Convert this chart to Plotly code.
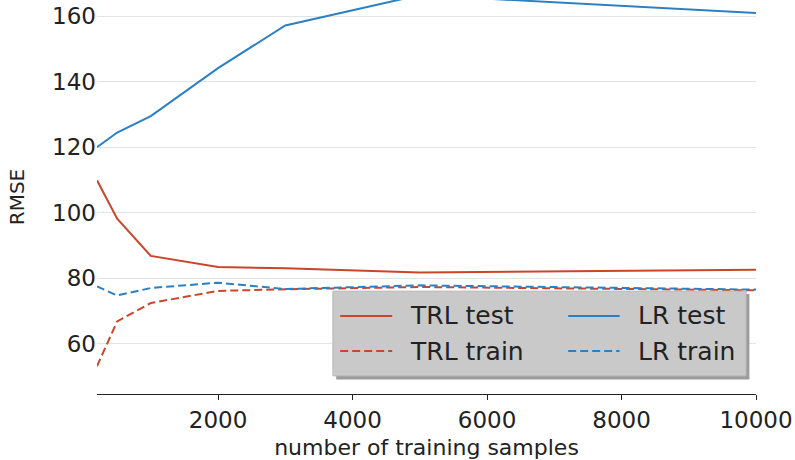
import plotly.graph_objects as go

# training-set sizes
n_samples = [200, 500, 1000, 2000, 3000, 5000, 10000]

# RMSE per model / split
trl_test = [109.9, 98.2, 86.8, 83.4, 83.0, 81.7, 82.6]
trl_train = [53.1, 66.8, 72.4, 76.1, 76.6, 77.3, 76.3]
lr_test = [120.0, 124.5, 129.5, 144.2, 157.2, 166.5, 161.0]
lr_train = [77.5, 74.7, 77.0, 78.6, 76.7, 77.8, 76.5]

x_ticks = [2000, 4000, 6000, 8000, 10000]
x_ticktext = ['2000', '4000', '6000', '8000', '10000']
y_ticks = [60, 80, 100, 120, 140, 160]

RED = '#c9462b'
BLUE = '#2b80c3'
TXT = '#222222'
FONT = 'DejaVu Sans'
DASH = '8px,4px'

series = [
    ('TRL test', trl_test, RED, 'solid'),
    ('LR test', lr_test, BLUE, 'solid'),
    ('TRL train', trl_train, RED, DASH),
    ('LR train', lr_train, BLUE, DASH),
]

fig = go.Figure()
for name, vals, color, dash in series:
    fig.add_trace(go.Scatter(
        x=n_samples,
        y=vals,
        mode='lines',
        name=name,
        line=dict(color=color, width=2, dash=dash),
        showlegend=False,
    ))

# hand-made legend box, matplotlib style (2 columns, shadow)
fig.add_shape(type='rect', xref='paper', yref='paper',
              x0=0.363, x1=0.990, y0=0.037, y1=0.254,
              fillcolor='#9c9c9c', line=dict(width=0), layer='above')
fig.add_shape(type='rect', xref='paper', yref='paper',
              x0=0.358, x1=0.985, y0=0.046, y1=0.261,
              fillcolor='#c9c9c9', line=dict(color='#b5b5b5', width=1), layer='above')

# legend rows / columns (paper coords)
rows = [0.198, 0.109]
cols = [(0.369, 0.448, 0.472), (0.715, 0.793, 0.818)]
for i, (name, vals, color, dash) in enumerate(series):
    lx0, lx1, tx = cols[i % 2]
    ly = rows[i // 2]
    fig.add_shape(type='line', xref='paper', yref='paper',
                  x0=lx0, x1=lx1, y0=ly, y1=ly,
                  line=dict(color=color, width=2, dash=dash), layer='above')
    fig.add_annotation(xref='paper', yref='paper', x=tx, y=ly,
                       text=name, showarrow=False, xanchor='left', yanchor='middle',
                       font=dict(family=FONT, size=25, color=TXT))

fig.update_layout(
    width=795,
    height=460,
    margin=dict(l=97, r=39, t=0, b=66),
    plot_bgcolor='white',
    paper_bgcolor='white',
    font=dict(family=FONT, color=TXT),
    showlegend=False,
)

fig.update_xaxes(
    range=[200, 10000],
    tickvals=x_ticks,
    ticktext=x_ticktext,
    ticks='outside',
    ticklen=5,
    tickcolor=TXT,
    showgrid=False,
    showline=True,
    linecolor=TXT,
    linewidth=1,
    zeroline=False,
    automargin=False,
    tickfont=dict(size=23, family=FONT, color=TXT),
    title=dict(text='number of training samples', font=dict(size=22, family=FONT, color=TXT)),
)
fig.update_yaxes(
    range=[44.6, 165],
    tickvals=y_ticks,
    showgrid=True,
    gridcolor='#e4e4e4',
    gridwidth=1,
    showline=False,
    zeroline=False,
    ticks='',
    automargin=False,
    tickfont=dict(size=23, family=FONT, color=TXT),
    title=dict(text='RMSE', font=dict(size=20, family=FONT, color=TXT), standoff=22),
)

# drop the page's default body margin so the figure sits at the window corner
fig.write_html("out.html", config={'displayModeBar': False},
               post_script="document.body.style.margin = '0';")
